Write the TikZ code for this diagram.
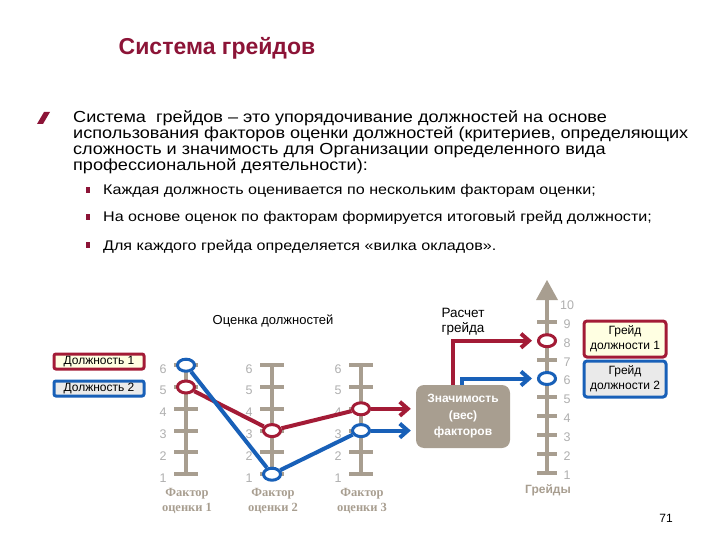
\documentclass[tikz,border=0pt]{standalone}
\usepackage{fontspec}
\setmainfont{Liberation Sans}
\newfontfamily\widefont[FakeStretch=1.13]{Liberation Sans}
\newfontfamily\itemfont[FakeStretch=1.15]{Liberation Sans}
\newfontfamily\factorfont{Liberation Serif}
\usetikzlibrary{arrows.meta,positioning,shapes.geometric}

\definecolor{titlered}{RGB}{140,20,55}
\definecolor{jobred}{RGB}{163,27,54}
\definecolor{jobblue}{RGB}{24,96,184}
\definecolor{taupe}{RGB}{168,158,144}
\definecolor{numgrey}{RGB}{175,175,175}
\definecolor{paleyellow}{RGB}{255,255,226}
\definecolor{palegrey}{RGB}{234,234,234}

\begin{document}
\begin{tikzpicture}[x=1pt,y=-1pt,
        every node/.style={font=\fontsize{13}{15}\selectfont},
        job1/.style={jobred, line width=4pt},
        job2/.style={jobblue, line width=4pt},
        barb/.style={-{Straight Barb[length=8pt,width=14pt]}, shorten >=5pt},
        dot/.style={ellipse, draw, fill=white, line width=3pt, minimum width=17pt, minimum height=12pt, inner sep=0pt},
        scalebar/.style={taupe, line width=4pt},
        scaletick/.style={taupe, line width=4pt},
        num/.style={numgrey, font=\fontsize{12.5}{12}\selectfont},
        factor/.style={taupe, align=center, font=\factorfont\bfseries\fontsize{12.5}{15.5}\selectfont},
        item/.style={anchor=base west, inner sep=0pt, font=\itemfont\fontsize{14}{16}\selectfont},
        legendbox/.style={draw, line width=3pt, rounded corners=2pt, inner sep=1pt, minimum width=90pt, minimum height=15pt, font=\fontsize{12}{14}\selectfont},
        gradebox/.style={draw, line width=3pt, rounded corners=3pt, inner sep=1pt, minimum width=82pt, minimum height=36pt, align=center, font=\fontsize{12}{15}\selectfont}]
    \useasboundingbox (0,0) rectangle (720,540);
    % title and text
    \node[titlered, font=\bfseries\fontsize{23}{26}\selectfont] (title) at (217,48) {Система грейдов};
    \fill[titlered] (37,124) -- (43,124) -- (50,112) -- (44,112) -- cycle;
    \node[anchor=base west, inner sep=0pt, align=left, font=\widefont\fontsize{16}{16}\selectfont] (def) at (73,171)
        {Система \ грейдов – это упорядочивание должностей на основе\\
         использования факторов оценки должностей (критериев, определяющих\\
         сложность и значимость для Организации определенного вида\\
         профессиональной деятельности):};
    \fill[titlered] (86,187) rectangle (90,193);
    \fill[titlered] (86,214) rectangle (90,220);
    \fill[titlered] (86,242) rectangle (90,248);
    \node[item] (item1) at (103,195) {Каждая должность оценивается по нескольким факторам оценки;};
    \node[item] (item2) at (103,222) {На основе оценок по факторам формируется итоговый грейд должности;};
    \node[item] (item3) at (103,250) {Для каждого грейда определяется «вилка окладов».};

    % factor scales
    \node (eval) at (273,321) {Оценка должностей};
    \foreach \X/\i in {186/1, 272/2, 361/3} {
        \draw[scalebar] (\X,{496-21.8}) -- (\X,{496-21.8*6});
        \foreach \k in {1,...,6} {
            \draw[scaletick] (\X-12,{496-21.8*\k}) -- (\X+12,{496-21.8*\k});
            \node[num] at (\X-23,{499.5-21.8*\k}) {\k};
        }
        \node[factor] at (\X+1,501) {Фактор\\оценки \i};
    }
    \node[legendbox, draw=jobred, fill=paleyellow] (job1) at (99,361.5) {Должность 1};
    \node[legendbox, draw=jobblue, fill=palegrey] (job2) at (99,388.5) {Должность 2};

    \node[dot, draw=jobred] (pos1a) at (186,{496-21.8*5}) {};
    \node[dot, draw=jobred] (pos1b) at (272,{496-21.8*3}) {};
    \node[dot, draw=jobred] (pos1c) at (361,{496-21.8*4}) {};
    \node[dot, draw=jobblue] (pos2a) at (186,{496-21.8*6}) {};
    \node[dot, draw=jobblue] (pos2b) at (272,{496-21.8*1}) {};
    \node[dot, draw=jobblue] (pos2c) at (361,{496-21.8*3}) {};
    \draw[job1] (pos1a) -- (pos1b) -- (pos1c);
    \draw[job2] (pos2a) -- (pos2b) -- (pos2c);

    % weight box
    \node[fill=taupe, text=white, rounded corners=8pt, minimum width=94pt, minimum height=63pt, align=center,
          font=\bfseries\fontsize{12}{16.5}\selectfont] (weight) at (463,416.5) {Значимость\\(вес)\\факторов};
    \draw[job1, barb] (pos1c) -- (pos1c -| weight.west);
    \draw[job2, barb] (pos2c) -- (pos2c -| weight.west);

    % grade scale
    \node[align=center, font=\fontsize{13.5}{15}\selectfont] (calc) at (463,322) {Расчет\\грейда};
    \draw[scalebar] (547,473) -- (547,296);
    \fill[taupe] (547,280) -- (558,300) -- (536,300) -- cycle;
    \foreach \k in {1,...,9}
        \draw[scaletick] (537,{491.9-18.9*\k}) -- (557,{491.9-18.9*\k});
    \foreach \k in {1,...,10}
        \node[num] at (567,{494-18.9*\k}) {\k};
    \node[taupe, font=\bfseries\fontsize{12}{14}\selectfont] (grades) at (548,490) {Грейды};
    \node[dot, draw=jobred] (grade1) at (547,{491.9-18.9*8}) {};
    \node[dot, draw=jobblue] (grade2) at (547,{491.9-18.9*6}) {};
    \draw[job1, barb] ([xshift=-10pt]weight.north) |- (grade1);
    \draw[job2, barb] ([xshift=-1pt]weight.north) |- (grade2);

    \node[gradebox, draw=jobred, fill=paleyellow] (gradebox1) at (625,339) {Грейд\\должности 1};
    \node[gradebox, draw=jobblue, fill=palegrey] (gradebox2) at (625,379) {Грейд\\должности 2};

    \node[font=\fontsize{12}{14}\selectfont] (page) at (666,518) {71};
\end{tikzpicture}
\end{document}
